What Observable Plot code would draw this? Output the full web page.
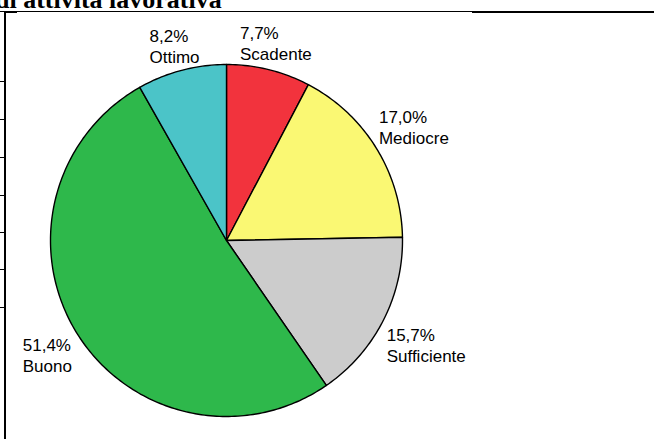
<!DOCTYPE html>
<html>
<head>
<meta charset="utf-8">
<script src="https://cdn.jsdelivr.net/npm/d3@7"></script>
<script src="https://cdn.jsdelivr.net/npm/@observablehq/plot@0.6"></script>
<style>
  html, body { margin: 0; padding: 0; background: #fff; }
  #wrap { position: relative; width: 654px; height: 439px; overflow: hidden; background: #fff; }
  #title { position: absolute; left: -5px; top: -13px; font: bold 26px "Liberation Serif", "Times New Roman", serif; line-height: 26px; white-space: nowrap; color: #000; }
  #chart { position: absolute; left: 0; top: 0; }
  .hl { position: absolute; background: #000; }
</style>
</head>
<body>
<div id="wrap">
  <div id="title">di attività lavorativa</div>
  <div id="chart"></div>
</div>
<script>
// ---- data ----
const categories = ["Scadente", "Mediocre", "Sufficiente", "Buono", "Ottimo"];
const values = [7.7, 17.0, 15.7, 51.4, 8.2];
const valueLabels = ["7,7%", "17,0%", "15,7%", "51,4%", "8,2%"];
const colors = ["#F2333D", "#FAF873", "#CCCCCC", "#2EB84B", "#4BC4C8"];

// ---- layout ----
const W = 654, H = 439;
const CX = 226, CY = 240, R = 176;
const FONT_SIZE = 17, LINE_H = 1.24;
const GAP = 6;

const pie = d3.pie().sort(null).value(d => d)(values);

// slice outlines in unit-circle coordinates (angle clockwise from 12 o'clock)
const slicePts = [];
pie.forEach((p, i) => {
  const cat = categories[i];
  slicePts.push({cat, u: 0, v: 0});
  const n = Math.max(2, Math.ceil((p.endAngle - p.startAngle) / (Math.PI / 180)));
  for (let k = 0; k <= n; k++) {
    const a = p.startAngle + (p.endAngle - p.startAngle) * k / n;
    slicePts.push({cat, u: Math.sin(a), v: Math.cos(a)});
  }
});

// label positions from slice mid-angles
const ctx = document.createElement("canvas").getContext("2d");
ctx.font = `${FONT_SIZE}px "Liberation Sans", Arial, sans-serif`;
const labels = pie.map((p, i) => {
  const a = (p.startAngle + p.endAngle) / 2;
  const lines = [valueLabels[i], categories[i]];
  const w = Math.max(...lines.map(s => ctx.measureText(s).width));
  const h = FONT_SIZE * LINE_H * 2 - 10;
  const d = R + GAP + Math.abs(Math.sin(a)) * w / 2 + Math.abs(Math.cos(a)) * h / 2;
  const bx = d * Math.sin(a) - w / 2;  // px, left edge relative to centre
  const by = d * Math.cos(a);          // px, up
  return {u: bx / R, v: by / R, text: lines.join("\n")};
});

const chart = Plot.plot({
  width: W,
  height: H,
  margin: 0,
  x: {domain: [-CX / R, (W - CX) / R], axis: null},
  y: {domain: [-(H - CY) / R, CY / R], axis: null},
  color: {domain: categories, range: colors},
  style: {background: "transparent", overflow: "visible"},
  marks: [
    Plot.line(slicePts, {x: "u", y: "v", z: "cat", fill: "cat", stroke: "#000", strokeWidth: 1.4, strokeLinejoin: "round", curve: "linear-closed"}),
    Plot.text(labels, {x: "u", y: "v", dy: 2, text: "text", textAnchor: "start", lineAnchor: "middle", lineHeight: LINE_H, fontSize: FONT_SIZE, fontFamily: '"Liberation Sans", Arial, sans-serif', fill: "#000"})
  ]
});
document.getElementById("chart").appendChild(chart);

// ---- decorative frame of the cropped document ----
const wrap = document.getElementById("wrap");
function seg(x, y, w, h) {
  const el = document.createElement("div");
  el.className = "hl";
  Object.assign(el.style, {left: x + "px", top: y + "px", width: w + "px", height: h + "px"});
  wrap.appendChild(el);
}
seg(0, 11, 472, 1);
seg(472, 11, 182, 2);
seg(5, 11, 12, 2);
seg(4, 11, 2, 428);
[81, 119, 157, 195, 232, 269, 307].forEach(y => seg(0, y, 5, 1));
</script>
</body>
</html>
